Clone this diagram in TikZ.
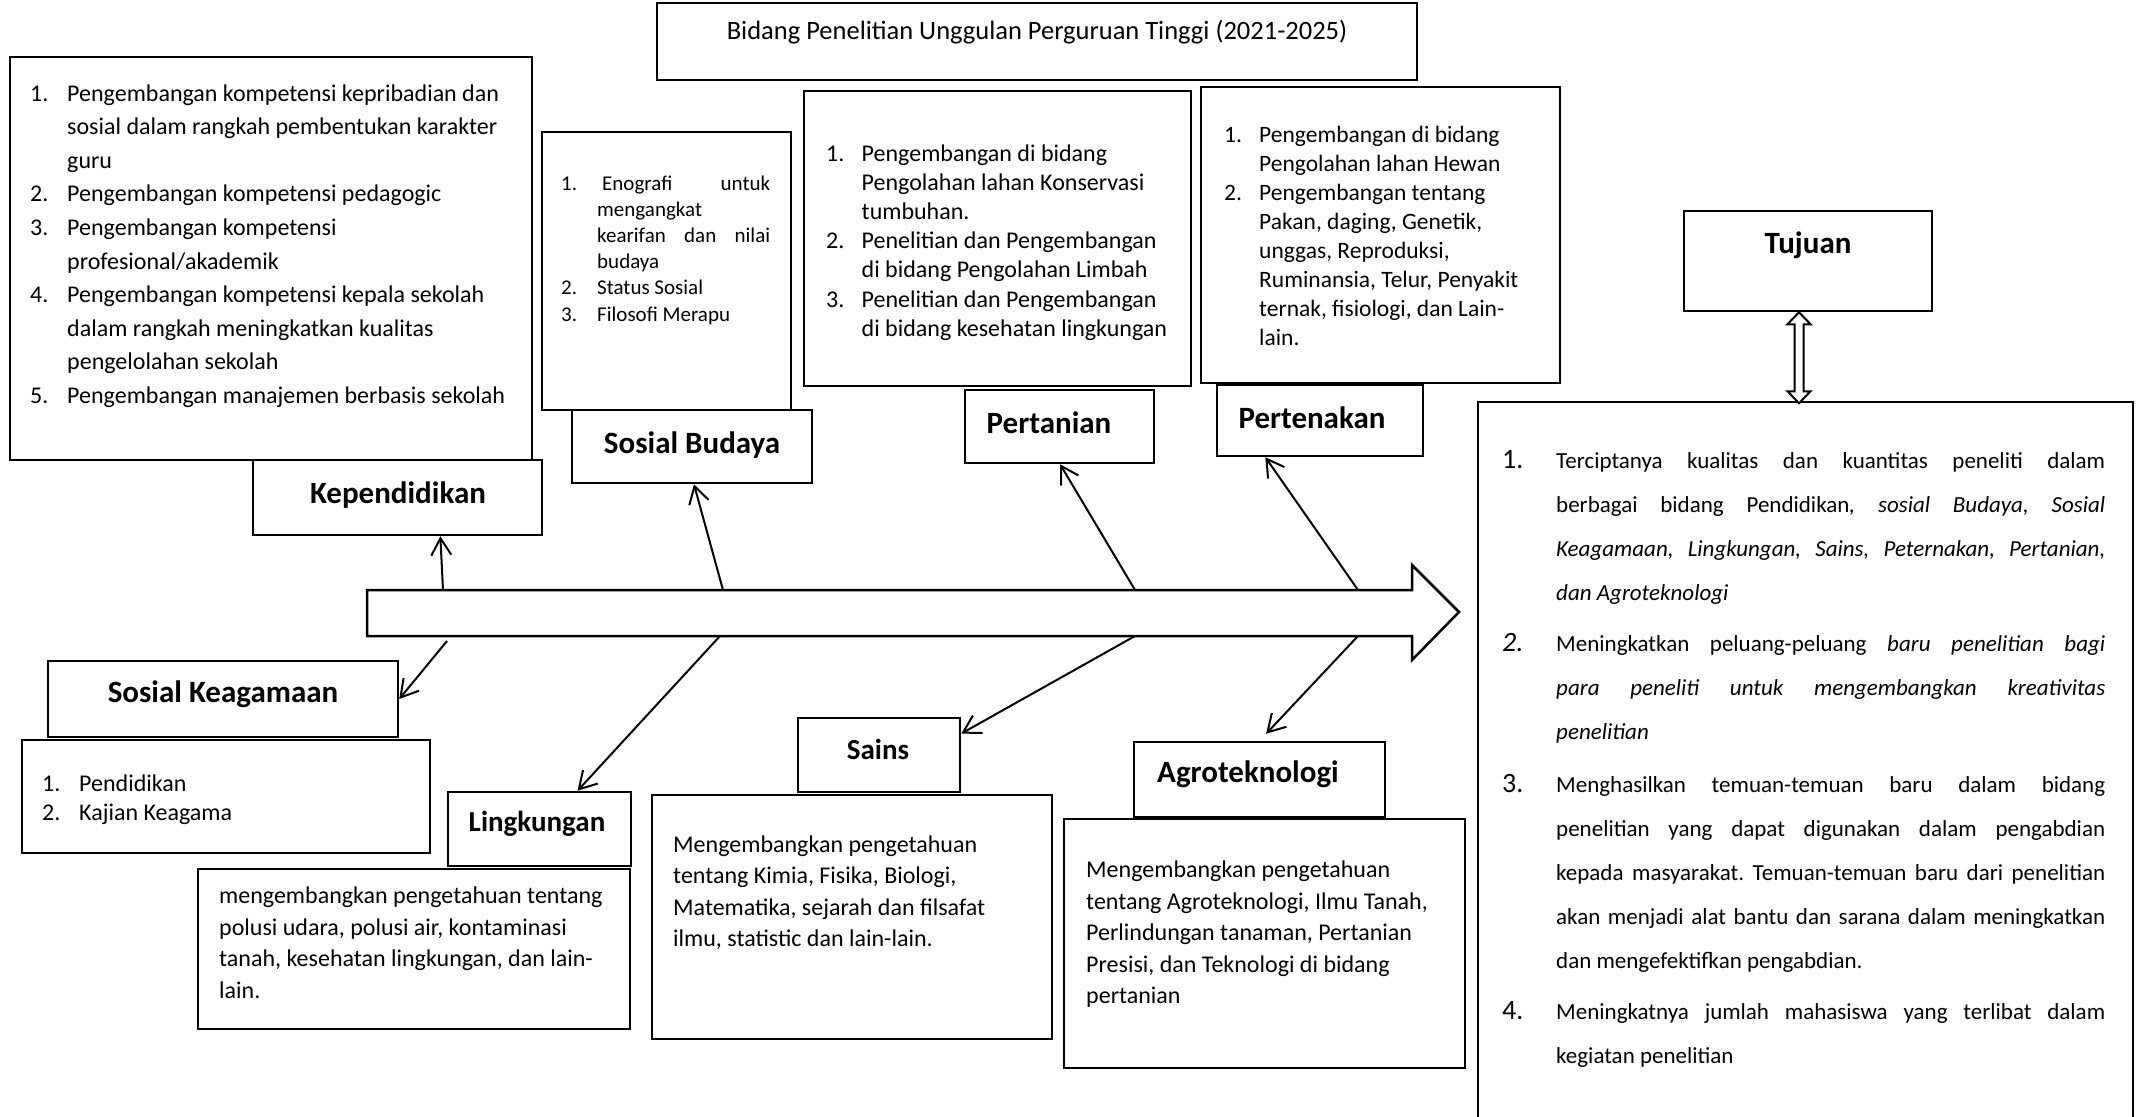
\documentclass[tikz,border=0pt]{standalone}
\usepackage{fontspec}
\setmainfont{Carlito}
\usetikzlibrary{arrows.meta,calc}
\frenchspacing
\newcommand{\myBlk}[2]{\vtop{\baselineskip=#1\relax\lineskiplimit=-1000pt\lineskip=0pt\relax #2}}
\newcommand{\myNum}[3]{\hbox{\makebox[#1][l]{#2}#3}}
\newcommand{\myCont}[2]{\hbox{\hskip#1\relax #2}}
\newcommand{\myJ}[2]{\makebox[#1][s]{#2}}
\begin{document}
\begin{tikzpicture}[x=1pt,y=-1pt,
  box/.style={draw, line width=2.5pt, inner sep=0pt, fill=white},
  lab/.style={font=\bfseries\fontsize{31}{31}\selectfont, inner sep=0pt},
  labs/.style={font=\bfseries\fontsize{29}{29}\selectfont, inner sep=0pt},
  txt/.style={anchor=base west, inner sep=0pt},
  conn/.style={line width=2pt, -{Straight Barb[length=17pt,width=20pt]}}]
\useasboundingbox (0,0) rectangle (2141,1116);
\fill[white] (0,0) rectangle (2141,1116);

% boxes
\node[box, minimum width=760pt, minimum height=77pt] (title) at (1037,41.5) {};
\node[box, minimum width=522pt, minimum height=403pt] (kepL) at (271,258.5) {};
\node[box, minimum width=289pt, minimum height=75pt] (kep) at (397.5,497.5) {};
\node[box, minimum width=249pt, minimum height=278pt] (sbL) at (666.5,271) {};
\node[box, minimum width=240pt, minimum height=73pt] (sb) at (692,446.5) {};
\node[box, minimum width=387pt, minimum height=295pt] (ptL) at (997.5,238.5) {};
\node[box, minimum width=189pt, minimum height=73pt] (pt) at (1059.5,426.5) {};
\node[box, minimum width=359pt, minimum height=296pt] (ptkL) at (1380.5,235) {};
\node[box, minimum width=206pt, minimum height=71pt] (ptk) at (1320,420.5) {};
\node[box, minimum width=248pt, minimum height=100pt] (tuj) at (1808,261) {};
\node[box, minimum width=655pt, minimum height=728pt] (tujL) at (1805.5,766) {};
\node[box, minimum width=408pt, minimum height=113pt] (skgL) at (226,796.5) {};
\node[box, minimum width=350pt, minimum height=76pt] (skg) at (223,699) {};
\node[box, minimum width=432pt, minimum height=160pt] (lkL) at (414,949) {};
\node[box, minimum width=183pt, minimum height=74pt] (lk) at (539.5,829) {};
\node[box, minimum width=400pt, minimum height=244pt] (snL) at (852,917) {};
\node[box, minimum width=162pt, minimum height=74pt] (sn) at (879,755) {};
\node[box, minimum width=401pt, minimum height=249pt] (agL) at (1264.5,943.5) {};
\node[box, minimum width=251pt, minimum height=75pt] (ag) at (1259.5,779.5) {};

% title
\node[inner sep=0pt, font=\fontsize{26.5}{26.5}\selectfont] (titleT) at (1037,32) {Bidang Penelitian Unggulan Perguruan Tinggi (2021-2025)};

% labels
\node[lab] (kepN) at (398,495) {Kependidikan};
\node[lab] (sbN) at (692,445) {Sosial Budaya};
\node[lab] (ptN) at (1049,423) {Pertanian};
\node[lab] (ptkN) at (1312,418) {Pertenakan};
\node[lab] (tujN) at (1808,245) {Tujuan};
\node[lab] (skgN) at (223,694) {Sosial Keagamaan};
\node[labs] (lkN) at (537,824) {Lingkungan};
\node[labs] (snN) at (878,749) {Sains};
\node[lab] (agN) at (1248,774) {Agroteknologi};

% list texts
\node[txt, font=\fontsize{24}{24}\selectfont] (kepT) at (30,101) {\myBlk{33.6pt}{
\myNum{37pt}{1.}{Pengembangan kompetensi kepribadian dan}
\myCont{37pt}{sosial dalam rangkah pembentukan karakter}
\myCont{37pt}{guru}
\myNum{37pt}{2.}{Pengembangan kompetensi pedagogic}
\myNum{37pt}{3.}{Pengembangan kompetensi}
\myCont{37pt}{profesional/akademik}
\myNum{37pt}{4.}{Pengembangan kompetensi kepala sekolah}
\myCont{37pt}{dalam rangkah meningkatkan kualitas}
\myCont{37pt}{pengelolahan sekolah}
\myNum{37pt}{5.}{Pengembangan manajemen berbasis sekolah}}};

\node[txt, font=\fontsize{21}{21}\selectfont] (sbT) at (561,190) {\myBlk{26.2pt}{
\myNum{36pt}{1.}{\hskip5pt\myJ{168pt}{Enografi untuk}}
\myCont{36pt}{mengangkat}
\myCont{36pt}{\myJ{173pt}{kearifan dan nilai}}
\myCont{36pt}{budaya}
\myNum{36pt}{2.}{Status Sosial}
\myNum{36pt}{3.}{Filosofi Merapu}}};

\node[txt, font=\fontsize{24}{24}\selectfont] (ptT) at (826,161.5) {\myBlk{29.1pt}{
\myNum{35.5pt}{1.}{Pengembangan di bidang}
\myCont{35.5pt}{Pengolahan lahan Konservasi}
\myCont{35.5pt}{tumbuhan.}
\myNum{35.5pt}{2.}{Penelitian dan Pengembangan}
\myCont{35.5pt}{di bidang Pengolahan Limbah}
\myNum{35.5pt}{3.}{Penelitian dan Pengembangan}
\myCont{35.5pt}{di bidang kesehatan lingkungan}}};

\node[txt, font=\fontsize{23.5}{23.5}\selectfont] (ptkT) at (1224,142.5) {\myBlk{29pt}{
\myNum{35pt}{1.}{Pengembangan di bidang}
\myCont{35pt}{Pengolahan lahan Hewan}
\myNum{35pt}{2.}{Pengembangan tentang}
\myCont{35pt}{Pakan, daging, Genetik,}
\myCont{35pt}{unggas, Reproduksi,}
\myCont{35pt}{Ruminansia, Telur, Penyakit}
\myCont{35pt}{ternak, fisiologi, dan Lain-}
\myCont{35pt}{lain.}}};

\node[txt, font=\fontsize{24}{24}\selectfont] (skgT) at (42,791.5) {\myBlk{29pt}{
\myNum{37pt}{1.}{Pendidikan}
\myNum{37pt}{2.}{Kajian Keagama}}};

\node[txt, font=\fontsize{24}{24}\selectfont] (lkT) at (219,903.5) {\myBlk{31.6pt}{
\hbox{mengembangkan pengetahuan tentang}
\hbox{polusi udara, polusi air, kontaminasi}
\hbox{tanah, kesehatan lingkungan, dan lain-}
\hbox{lain.}}};

\node[txt, font=\fontsize{24}{24}\selectfont] (snT) at (673,852.5) {\myBlk{31.3pt}{
\hbox{Mengembangkan pengetahuan}
\hbox{tentang Kimia, Fisika, Biologi,}
\hbox{Matematika, sejarah dan filsafat}
\hbox{ilmu, statistic dan lain-lain.}}};

\node[txt, font=\fontsize{24}{24}\selectfont] (agT) at (1086,877.5) {\myBlk{31.5pt}{
\hbox{Mengembangkan pengetahuan}
\hbox{tentang Agroteknologi, Ilmu Tanah,}
\hbox{Perlindungan tanaman, Pertanian}
\hbox{Presisi, dan Teknologi di bidang}
\hbox{pertanian}}};

\node[txt, font=\fontsize{23}{23}\selectfont] (tujT) at (1502,468) {\myBlk{44pt}{
\myNum{54pt}{\fontsize{28}{28}\selectfont 1.}{\myJ{549pt}{Terciptanya kualitas dan kuantitas peneliti dalam}}
\myCont{54pt}{\myJ{549pt}{berbagai bidang Pendidikan\textit{, sosial Budaya, Sosial}}}
\myCont{54pt}{\myJ{549pt}{\textit{Keagamaan, Lingkungan, Sains, Peternakan, Pertanian,}}}
\myCont{54pt}{\textit{dan Agroteknologi}}
\vskip7.5pt
\myNum{54pt}{\fontsize{28}{28}\selectfont\itshape 2.}{\myJ{549pt}{Meningkatkan peluang-peluang \textit{baru penelitian bagi}}}
\myCont{54pt}{\myJ{549pt}{\textit{para peneliti untuk mengembangkan kreativitas}}}
\myCont{54pt}{\textit{penelitian}}
\vskip9pt
\myNum{54pt}{\fontsize{28}{28}\selectfont 3.}{\myJ{549pt}{Menghasilkan temuan-temuan baru dalam bidang}}
\myCont{54pt}{\myJ{549pt}{penelitian yang dapat digunakan dalam pengabdian}}
\myCont{54pt}{\myJ{549pt}{kepada masyarakat. Temuan-temuan baru dari penelitian}}
\myCont{54pt}{\myJ{549pt}{akan menjadi alat bantu dan sarana dalam meningkatkan}}
\myCont{54pt}{dan mengefektifkan pengabdian.}
\vskip7pt
\myNum{54pt}{\fontsize{28}{28}\selectfont 4.}{\myJ{549pt}{Meningkatnya jumlah mahasiswa yang terlibat dalam}}
\myCont{54pt}{kegiatan penelitian}}};

% spine
\draw[line width=2.5pt, fill=white, line join=miter] (367,590) -- (1412,590) -- (1412,565) -- (1459,612) -- (1412,660) -- (1412,636) -- (367,636) -- cycle;
\coordinate (s1) at (443,590);
\coordinate (s2) at (723,590);
\coordinate (s3) at (1135,590);
\coordinate (s4) at (1358,590);
\coordinate (b1) at (447,641);
\coordinate (b2) at (720,636);
\coordinate (b3) at (1135,636);
\coordinate (b4) at (1358,636);

% branches
\draw[conn] (s1) -- ($(kep.south west)!0.647!(kep.south east)$);
\draw[conn] (s2) -- ($(sb.south west)!0.508!(sb.south east)$);
\draw[conn] (s3) -- ($(pt.south west)!0.503!(pt.south east)$);
\draw[conn] (s4) -- ($(ptk.south west)!0.238!(ptk.south east)$);
\draw[conn] (b1) -- (skg.east);
\draw[conn] (b2) -- ($(lk.north west)!0.705!(lk.north east)$);
\draw[conn] (b3) -- ($(sn.north east)!0.22!(sn.south east)$);
\draw[conn] (b4) -- ([yshift=7pt]$(ag.north west)!0.526!(ag.north east)$);

% double arrow Tujuan <-> goals box
\draw[line width=2pt, fill=white, line join=miter] ([xshift=-9pt]tuj.south) -- ++(11.5,12) -- ++(-7,0) -- ++(0,67) -- ++(7,0) -- ++(-11.5,12) -- ++(-11.5,-12) -- ++(7,0) -- ++(0,-67) -- ++(-7,0) -- cycle;
\end{tikzpicture}
\end{document}
